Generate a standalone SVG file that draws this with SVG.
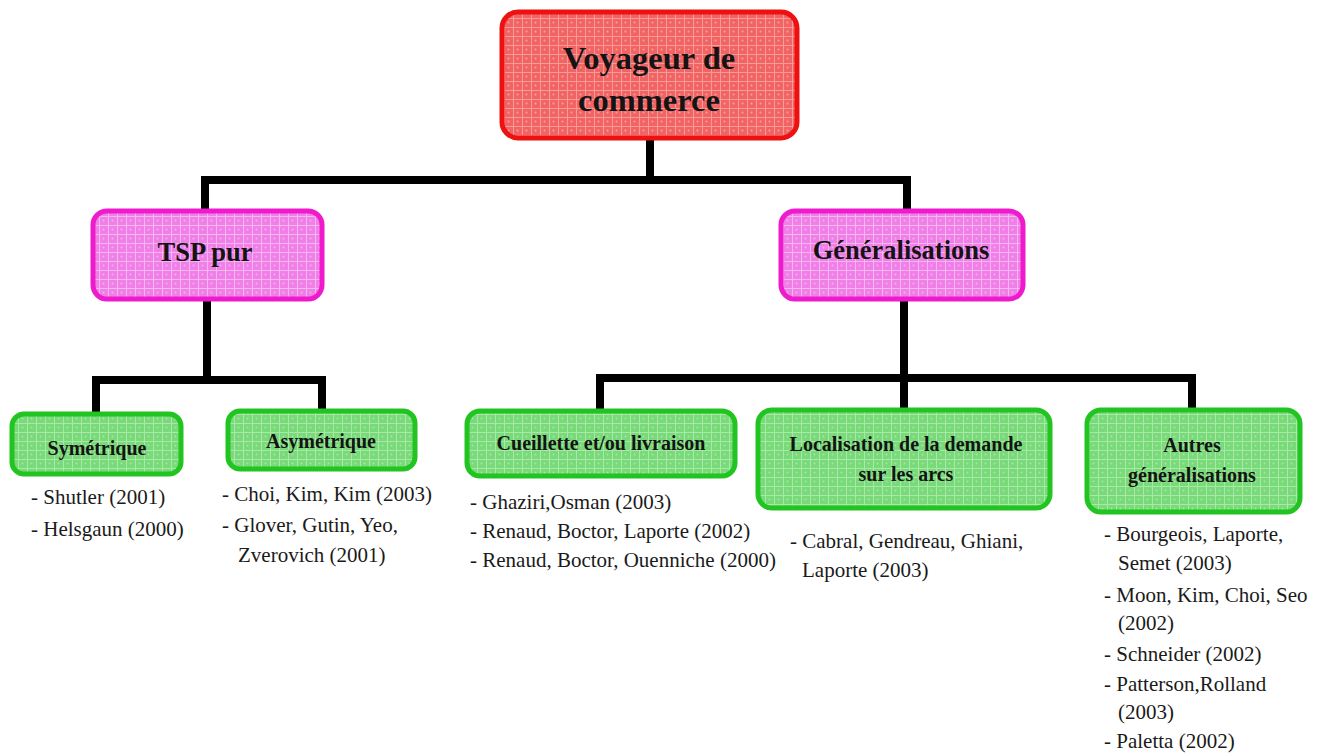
<svg xmlns="http://www.w3.org/2000/svg" width="1324" height="754" viewBox="0 0 1324 754">
  <style>
    .box { stroke-width: 5; }
    .root { fill: url(#texRed); stroke: #ee1111; }
    .mid { fill: url(#texPink); stroke: #ee1acc; }
    .leaf { fill: url(#texGreen); stroke: #22c422; }
    .title { font-family: "Liberation Serif", "DejaVu Serif", serif; font-weight: bold; fill: #141414; text-anchor: middle; }
    .leaf-title { font-size: 20px; }
    .ref { font-family: "Liberation Serif", "DejaVu Serif", serif; font-size: 21px; fill: #1a1a1a; }
    .wire { fill: none; stroke: #000; stroke-width: 8; stroke-linejoin: miter; stroke-linecap: square; }
  </style>
  <defs>
    <!-- woven texture behind the box fills -->
    <pattern id="texRed" width="9" height="9" patternUnits="userSpaceOnUse">
      <rect width="9" height="9" fill="#f26464"/>
      <path d="M0 0.5H9M0.5 0V9" stroke="#f79a9a" stroke-width="1"/>
      <circle cx="4.5" cy="4.5" r="1" fill="#f8a0a0"/>
    </pattern>
    <pattern id="texPink" width="9" height="9" patternUnits="userSpaceOnUse">
      <rect width="9" height="9" fill="#f080e8"/>
      <path d="M0 0.5H9M0.5 0V9" stroke="#f6b6f2" stroke-width="1"/>
      <circle cx="4.5" cy="4.5" r="1" fill="#f5aef0"/>
    </pattern>
    <pattern id="texGreen" width="9" height="9" patternUnits="userSpaceOnUse">
      <rect width="9" height="9" fill="#78da78"/>
      <path d="M0 0.5H9M0.5 0V9" stroke="#aae8aa" stroke-width="1"/>
      <circle cx="4.5" cy="4.5" r="1" fill="#a6e6a6"/>
    </pattern>
  </defs>

  <rect width="1324" height="754" fill="#ffffff"/>

  <!-- tree connectors -->
  <g id="connectors">
    <path class="wire" d="M650 140V180M205 180H907M205 180V209M907 180V209"/>
    <path class="wire" d="M207 300V380M96 380H322M96 380V411M322 380V408"/>
    <path class="wire" d="M904 300V378M600 378H1192M600 378V408M904 378V407M1192 378V407"/>
  </g>

  <g id="node-root">
    <rect class="box root" x="502" y="12" width="295" height="126" rx="16"/>
    <text class="title" font-size="32.5" x="649" y="69">Voyageur de</text>
    <text class="title" font-size="32.5" x="649" y="111">commerce</text>
  </g>

  <g id="node-tsp">
    <rect class="box mid" x="93" y="211" width="229" height="88" rx="14"/>
    <text class="title" font-size="26.5" x="205" y="261">TSP pur</text>
  </g>

  <g id="node-gen">
    <rect class="box mid" x="781" y="211" width="242" height="88" rx="14"/>
    <text class="title" font-size="26.5" x="901" y="259">Généralisations</text>
  </g>

  <g id="node-sym">
    <rect class="box leaf" x="12" y="414" width="169" height="60" rx="12"/>
    <text class="title leaf-title" x="97" y="455">Symétrique</text>
    <text class="ref" x="31" y="504">- Shutler (2001)</text>
    <text class="ref" x="31" y="536">- Helsgaun (2000)</text>
  </g>

  <g id="node-asym">
    <rect class="box leaf" x="228" y="411" width="187" height="58" rx="12"/>
    <text class="title leaf-title" x="321" y="448">Asymétrique</text>
    <text class="ref" x="222" y="501">- Choi, Kim, Kim (2003)</text>
    <text class="ref" x="222" y="532">- Glover, Gutin, Yeo,</text>
    <text class="ref" x="238" y="562">Zverovich (2001)</text>
  </g>

  <g id="node-pickup">
    <rect class="box leaf" x="467" y="411" width="268" height="65" rx="13"/>
    <text class="title leaf-title" x="601" y="450">Cueillette et/ou livraison</text>
    <text class="ref" x="470" y="509">- Ghaziri,Osman (2003)</text>
    <text class="ref" x="470" y="538">- Renaud, Boctor, Laporte (2002)</text>
    <text class="ref" x="470" y="567">- Renaud, Boctor, Ouenniche (2000)</text>
  </g>

  <g id="node-arcs">
    <rect class="box leaf" x="758" y="410" width="292" height="98" rx="14"/>
    <text class="title leaf-title" x="906" y="451">Localisation de la demande</text>
    <text class="title leaf-title" x="906" y="481">sur les arcs</text>
    <text class="ref" x="790" y="548">- Cabral, Gendreau, Ghiani,</text>
    <text class="ref" x="802" y="577">Laporte (2003)</text>
  </g>

  <g id="node-other">
    <rect class="box leaf" x="1087" y="410" width="213" height="102" rx="14"/>
    <text class="title leaf-title" x="1192" y="452">Autres</text>
    <text class="title leaf-title" x="1192" y="482">généralisations</text>
    <text class="ref" x="1104" y="541">- Bourgeois, Laporte,</text>
    <text class="ref" x="1118" y="570">Semet (2003)</text>
    <text class="ref" x="1104" y="602">- Moon, Kim, Choi, Seo</text>
    <text class="ref" x="1118" y="630">(2002)</text>
    <text class="ref" x="1104" y="661">- Schneider (2002)</text>
    <text class="ref" x="1104" y="691">- Patterson,Rolland</text>
    <text class="ref" x="1118" y="719">(2003)</text>
    <text class="ref" x="1104" y="748">- Paletta (2002)</text>
  </g>
</svg>
